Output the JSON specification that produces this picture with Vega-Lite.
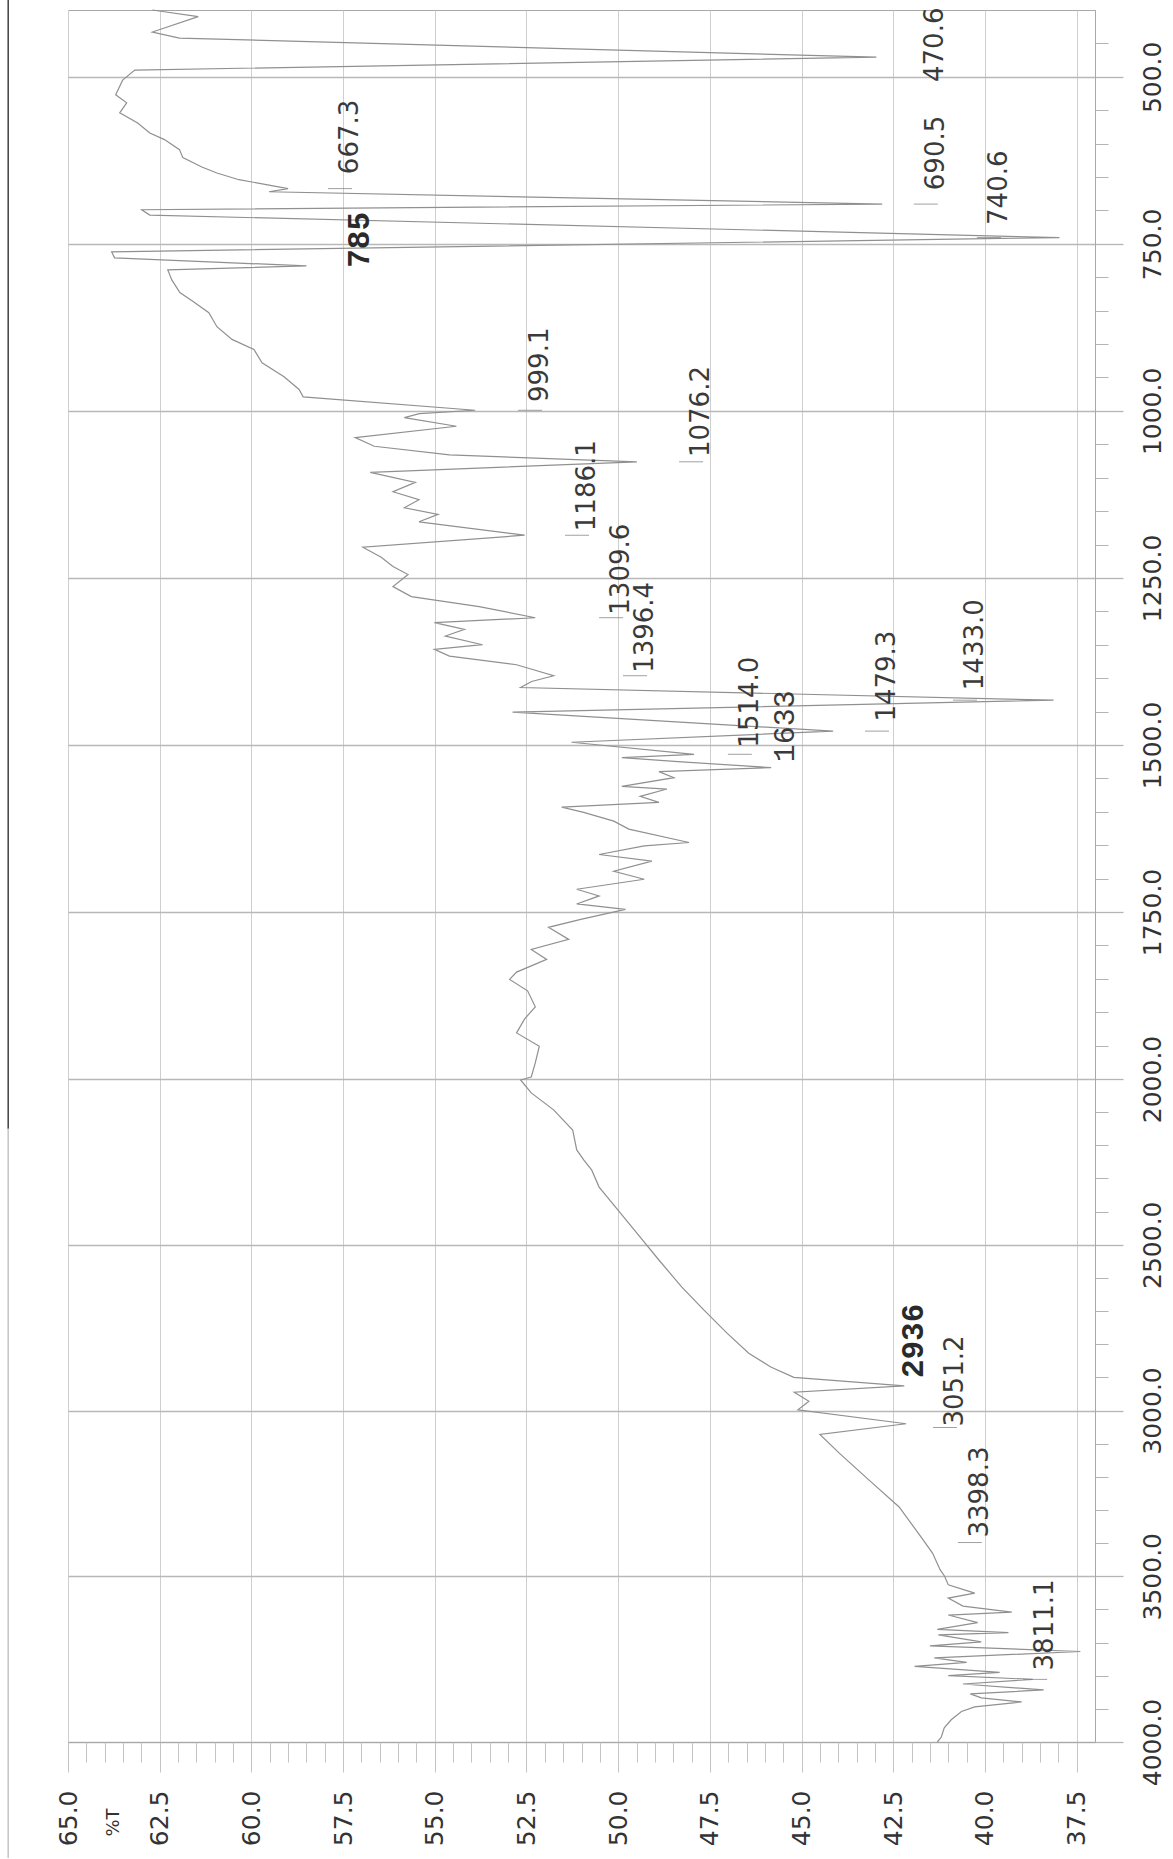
{
  "$schema": "https://vega.github.io/schema/vega-lite/v6.json",
  "width": 1027,
  "height": 1732,
  "autosize": {"type": "none"},
  "padding": {"left": 68, "top": 10, "right": 78, "bottom": 117},
  "background": "white",
  "config": {"view": {"stroke": "#a8a8a8", "strokeWidth": 1}, "font": "DejaVu Sans"},
  "datasets": {
    "spectrum": [
      {"wn":400,"T":62.7},{"wn":410,"T":61.45},{"wn":433,"T":62.7},{"wn":442,"T":61.96},{"wn":470.6,"T":42.96},
      {"wn":490,"T":63.18},{"wn":505,"T":63.51},{"wn":527,"T":63.7},{"wn":539,"T":63.4},{"wn":554,"T":63.59},
      {"wn":569,"T":63.1},{"wn":584,"T":62.77},{"wn":594,"T":62.37},{"wn":609,"T":61.96},{"wn":621,"T":61.87},
      {"wn":635,"T":61.35},{"wn":644,"T":60.94},{"wn":654,"T":60.34},{"wn":662,"T":59.52},{"wn":667.3,"T":59.0},
      {"wn":672,"T":59.52},{"wn":690.5,"T":42.8},{"wn":699,"T":62.99},{"wn":707,"T":62.77},{"wn":740.6,"T":37.97},
      {"wn":762,"T":63.81},{"wn":771,"T":63.73},{"wn":783,"T":58.5},{"wn":789,"T":62.28},{"wn":804,"T":62.17},
      {"wn":823,"T":61.95},{"wn":837,"T":61.57},{"wn":853,"T":61.16},{"wn":874,"T":60.94},{"wn":893,"T":60.53},
      {"wn":908,"T":59.93},{"wn":928,"T":59.71},{"wn":949,"T":59.11},{"wn":968,"T":58.7},{"wn":979,"T":58.59},
      {"wn":999.1,"T":53.9},{"wn":1004,"T":55.42},{"wn":1010,"T":55.83},{"wn":1023,"T":54.41},{"wn":1040,"T":57.17},
      {"wn":1053,"T":56.65},{"wn":1066,"T":54.6},{"wn":1076.2,"T":49.49},{"wn":1092,"T":56.76},{"wn":1107,"T":55.53},
      {"wn":1121,"T":56.14},{"wn":1133,"T":55.43},{"wn":1145,"T":55.83},{"wn":1155,"T":54.91},{"wn":1166,"T":55.43},
      {"wn":1186.1,"T":52.55},{"wn":1204,"T":56.96},{"wn":1219,"T":56.46},{"wn":1233,"T":56.14},{"wn":1245,"T":55.73},
      {"wn":1263,"T":56.14},{"wn":1278,"T":55.64},{"wn":1293,"T":53.79},{"wn":1309.6,"T":52.26},{"wn":1317,"T":55.01},
      {"wn":1327,"T":54.19},{"wn":1337,"T":54.71},{"wn":1350,"T":53.7},{"wn":1357,"T":55.01},{"wn":1367,"T":54.6},
      {"wn":1380,"T":52.77},{"wn":1396.4,"T":51.76},{"wn":1405,"T":52.36},{"wn":1414,"T":52.66},{"wn":1433,"T":38.13},
      {"wn":1451,"T":52.88},{"wn":1479.3,"T":44.14},{"wn":1496,"T":51.27},{"wn":1514,"T":47.93},{"wn":1519,"T":49.9},
      {"wn":1525,"T":48.37},{"wn":1534,"T":45.83},{"wn":1540,"T":48.89},{"wn":1549,"T":48.48},{"wn":1562,"T":49.9},
      {"wn":1566,"T":48.67},{"wn":1577,"T":49.4},{"wn":1586,"T":48.89},{"wn":1593,"T":51.54},{"wn":1601,"T":50.94},
      {"wn":1614,"T":50.12},{"wn":1626,"T":49.71},{"wn":1646,"T":48.07},{"wn":1651,"T":49.29},{"wn":1664,"T":50.52},
      {"wn":1674,"T":49.08},{"wn":1689,"T":50.12},{"wn":1701,"T":49.29},{"wn":1716,"T":51.13},{"wn":1726,"T":50.52},
      {"wn":1738,"T":51.13},{"wn":1746,"T":49.8},{"wn":1761,"T":51.02},{"wn":1773,"T":51.9},{"wn":1791,"T":51.35},
      {"wn":1806,"T":52.37},{"wn":1821,"T":51.95},{"wn":1840,"T":52.77},{"wn":1851,"T":52.96},{"wn":1868,"T":52.47},
      {"wn":1892,"T":52.26},{"wn":1910,"T":52.55},{"wn":1931,"T":52.77},{"wn":1951,"T":52.15},{"wn":1976,"T":52.26},
      {"wn":1997,"T":52.37},{"wn":2003,"T":52.66},{"wn":2042,"T":52.37},{"wn":2093,"T":51.76},{"wn":2154,"T":51.24},
      {"wn":2214,"T":51.13},{"wn":2244,"T":50.94},{"wn":2275,"T":50.72},{"wn":2326,"T":50.52},{"wn":2395,"T":50.01},
      {"wn":2465,"T":49.49},{"wn":2546,"T":48.89},{"wn":2627,"T":48.27},{"wn":2697,"T":47.66},{"wn":2766,"T":47.04},
      {"wn":2827,"T":46.44},{"wn":2869,"T":45.84},{"wn":2900,"T":45.21},{"wn":2926,"T":42.2},{"wn":2945,"T":45.2},
      {"wn":2972,"T":44.8},{"wn":2998,"T":45.1},{"wn":3040,"T":42.15},{"wn":3072,"T":44.5},{"wn":3128,"T":43.98},
      {"wn":3210,"T":43.16},{"wn":3291,"T":42.34},{"wn":3382,"T":41.74},{"wn":3430,"T":41.43},{"wn":3481,"T":41.22},
      {"wn":3500,"T":41.1},{"wn":3526,"T":41.0},{"wn":3551,"T":40.28},{"wn":3566,"T":41.0},{"wn":3590,"T":40.6},
      {"wn":3608,"T":39.27},{"wn":3617,"T":41.0},{"wn":3640,"T":40.2},{"wn":3660,"T":41.3},{"wn":3670,"T":39.36},
      {"wn":3677,"T":41.27},{"wn":3698,"T":40.1},{"wn":3710,"T":41.5},{"wn":3727,"T":37.4},{"wn":3746,"T":41.38},
      {"wn":3760,"T":40.5},{"wn":3772,"T":41.92},{"wn":3790,"T":39.6},{"wn":3800,"T":41.0},{"wn":3811.1,"T":38.7},
      {"wn":3825,"T":40.6},{"wn":3843,"T":38.4},{"wn":3855,"T":40.4},{"wn":3867,"T":40.1},{"wn":3879,"T":39.0},
      {"wn":3894,"T":40.28},{"wn":3908,"T":40.64},{"wn":3933,"T":40.92},{"wn":3957,"T":41.11},{"wn":3985,"T":41.19},
      {"wn":4000,"T":41.3}
    ],
    "labels": [
      {"label":"470.6","wn":470.6,"lx":41.36,"ly":452,"kind":"s","mk":0},
      {"label":"667.3","wn":667.3,"lx":57.31,"ly":590,"kind":"s","mk":1},
      {"label":"690.5","wn":690.5,"lx":41.34,"ly":614,"kind":"s","mk":1},
      {"label":"740.6","wn":740.6,"lx":39.62,"ly":666,"kind":"s","mk":1},
      {"label":"785","wn":785,"lx":57.04,"ly":744,"kind":"b","mk":0},
      {"label":"999.1","wn":999.1,"lx":52.13,"ly":931,"kind":"s","mk":1},
      {"label":"1076.2","wn":1076.2,"lx":47.74,"ly":1001,"kind":"s","mk":1},
      {"label":"1186.1","wn":1186.1,"lx":50.85,"ly":1112,"kind":"s","mk":1},
      {"label":"1309.6","wn":1309.6,"lx":49.92,"ly":1237,"kind":"s","mk":1},
      {"label":"1396.4","wn":1396.4,"lx":49.27,"ly":1324,"kind":"s","mk":1},
      {"label":"1433.0","wn":1433.0,"lx":40.27,"ly":1350,"kind":"s","mk":1},
      {"label":"1479.3","wn":1479.3,"lx":42.67,"ly":1397,"kind":"s","mk":1},
      {"label":"1514.0","wn":1514.0,"lx":46.41,"ly":1436,"kind":"s","mk":1},
      {"label":"1633","wn":1633,"lx":45.45,"ly":1472,"kind":"c","mk":0},
      {"label":"2936","wn":2936,"lx":41.94,"ly":2790,"kind":"b","mk":0},
      {"label":"3051.2","wn":3051.2,"lx":40.82,"ly":2911,"kind":"s","mk":1},
      {"label":"3398.3","wn":3398.3,"lx":40.14,"ly":3246,"kind":"s","mk":1},
      {"label":"3811.1","wn":3811.1,"lx":38.36,"ly":3647,"kind":"s","mk":1}
    ],
    "edge": [
      {"ex": 66.63, "y1": 385, "y2": 2150, "shade": "dark"},
      {"ex": 66.63, "y1": 2150, "y2": 4350, "shade": "light"}
    ]
  },
  "resolve": {"axis": {"x": "independent", "y": "independent"}},
  "layer": [
    {
      "data": {"name": "spectrum"},
      "mark": {"type": "line", "color": "#909090", "strokeWidth": 1.2},
      "encoding": {
        "x": {
          "field": "T", "type": "quantitative",
          "scale": {"domain": [65, 37], "nice": false, "zero": false},
          "axis": {
            "orient": "bottom",
            "values": [65, 62.5, 60, 57.5, 55, 52.5, 50, 47.5, 45, 42.5, 40, 37.5],
            "format": ".1f",
            "labelAngle": 270, "labelAlign": "right", "labelBaseline": "middle",
            "labelFontSize": 25, "labelColor": "#333333", "labelPadding": 18,
            "labelOverlap": false, "labelFlush": false, "labelBound": false,
            "tickSize": 30, "tickColor": "#c4c4c4", "tickWidth": 1,
            "grid": true, "gridColor": "#cfcfcf", "gridWidth": 1,
            "domain": true, "domainColor": "#a8a8a8",
            "title": "%T", "titleAngle": 270, "titleFontSize": 18, "titleFontWeight": "normal",
            "titleColor": "#333333", "titleX": 45, "titleY": 80, "titleAlign": "center", "titleBaseline": "middle"
          }
        },
        "y": {
          "field": "wn", "type": "quantitative",
          "scale": {"domain": [400, 2000, 4000], "range": [0, 1069, 1732], "nice": false, "zero": false},
          "axis": {
            "orient": "right",
            "values": [500, 750, 1000, 1250, 1500, 1750, 2000, 2500, 3000, 3500, 4000],
            "format": ".1f",
            "labelAngle": 270, "labelAlign": "center", "labelBaseline": "top",
            "labelFontSize": 25, "labelColor": "#333333", "labelPadding": 17,
            "labelOverlap": false, "labelFlush": false, "labelBound": false,
            "tickSize": 28, "tickColor": "#b5b5b5", "tickWidth": 1.3,
            "grid": true, "gridColor": "#b8b8b8", "gridWidth": 1.3,
            "domain": true, "domainColor": "#a8a8a8",
            "title": null
          }
        },
        "order": {"field": "wn", "type": "quantitative"}
      }
    },
    {
      "data": {"name": "labels"},
      "transform": [{"filter": "datum.mk == 1"}],
      "mark": {"type": "tick", "orient": "horizontal", "size": 24, "thickness": 1, "color": "#777777", "xOffset": -10},
      "encoding": {
        "x": {
          "field": "lx", "type": "quantitative",
          "scale": {"domain": [65, 37], "nice": false, "zero": false},
          "axis": {
            "orient": "bottom",
            "values": [38,38.5,39,39.5,40.5,41,41.5,42,43,43.5,44,44.5,45.5,46,46.5,47,48,48.5,49,49.5,50.5,51,51.5,52,53,53.5,54,54.5,55.5,56,56.5,57,58,58.5,59,59.5,60.5,61,61.5,62,63,63.5,64,64.5],
            "labels": false, "grid": false, "domain": false,
            "tickSize": 20, "tickColor": "#c4c4c4", "tickWidth": 1, "title": null
          }
        },
        "y": {
          "field": "wn", "type": "quantitative",
          "scale": {"domain": [400, 2000, 4000], "range": [0, 1069, 1732], "nice": false, "zero": false},
          "axis": {
            "orient": "right",
            "values": [450,550,600,650,700,800,850,900,950,1050,1100,1150,1200,1300,1350,1400,1450,1550,1600,1650,1700,1800,1850,1900,1950,2100,2200,2300,2400,2600,2700,2800,2900,3100,3200,3300,3400,3600,3700,3800,3900],
            "labels": false, "grid": false, "domain": false,
            "tickSize": 13, "tickColor": "#b5b5b5", "tickWidth": 1, "title": null
          }
        }
      }
    },
    {
      "data": {"name": "edge"},
      "mark": {"type": "rule", "clip": false, "strokeWidth": 1.6},
      "encoding": {
        "x": {"field": "ex", "type": "quantitative", "scale": {"domain": [65, 37], "nice": false, "zero": false}, "axis": null},
        "y": {"field": "y1", "type": "quantitative", "scale": {"domain": [400, 2000, 4000], "range": [0, 1069, 1732], "nice": false, "zero": false}, "axis": null},
        "y2": {"field": "y2"},
        "color": {"field": "shade", "type": "nominal", "scale": {"domain": ["dark", "light"], "range": ["#4a4a4a", "#c8c8c8"]}, "legend": null}
      }
    },
    {
      "data": {"name": "labels"},
      "transform": [{"filter": "datum.kind == 's'"}],
      "mark": {"type": "text", "angle": 270, "align": "center", "baseline": "middle", "font": "DejaVu Sans", "fontSize": 26, "color": "#3a3a3a"},
      "encoding": {
        "x": {"field": "lx", "type": "quantitative", "scale": {"domain": [65, 37], "nice": false, "zero": false}, "axis": null},
        "y": {"field": "ly", "type": "quantitative", "scale": {"domain": [400, 2000, 4000], "range": [0, 1069, 1732], "nice": false, "zero": false}, "axis": null},
        "text": {"field": "label"}
      }
    },
    {
      "data": {"name": "labels"},
      "transform": [{"filter": "datum.kind == 'b'"}],
      "mark": {"type": "text", "angle": 270, "align": "center", "baseline": "middle", "font": "Liberation Mono", "fontSize": 31, "fontWeight": "bold", "color": "#2a2a2a"},
      "encoding": {
        "x": {"field": "lx", "type": "quantitative", "scale": {"domain": [65, 37], "nice": false, "zero": false}, "axis": null},
        "y": {"field": "ly", "type": "quantitative", "scale": {"domain": [400, 2000, 4000], "range": [0, 1069, 1732], "nice": false, "zero": false}, "axis": null},
        "text": {"field": "label"}
      }
    },
    {
      "data": {"name": "labels"},
      "transform": [{"filter": "datum.kind == 'c'"}],
      "mark": {"type": "text", "angle": 270, "align": "center", "baseline": "middle", "font": "Liberation Mono", "fontSize": 30, "color": "#3a3a3a"},
      "encoding": {
        "x": {"field": "lx", "type": "quantitative", "scale": {"domain": [65, 37], "nice": false, "zero": false}, "axis": null},
        "y": {"field": "ly", "type": "quantitative", "scale": {"domain": [400, 2000, 4000], "range": [0, 1069, 1732], "nice": false, "zero": false}, "axis": null},
        "text": {"field": "label"}
      }
    }
  ]
}
